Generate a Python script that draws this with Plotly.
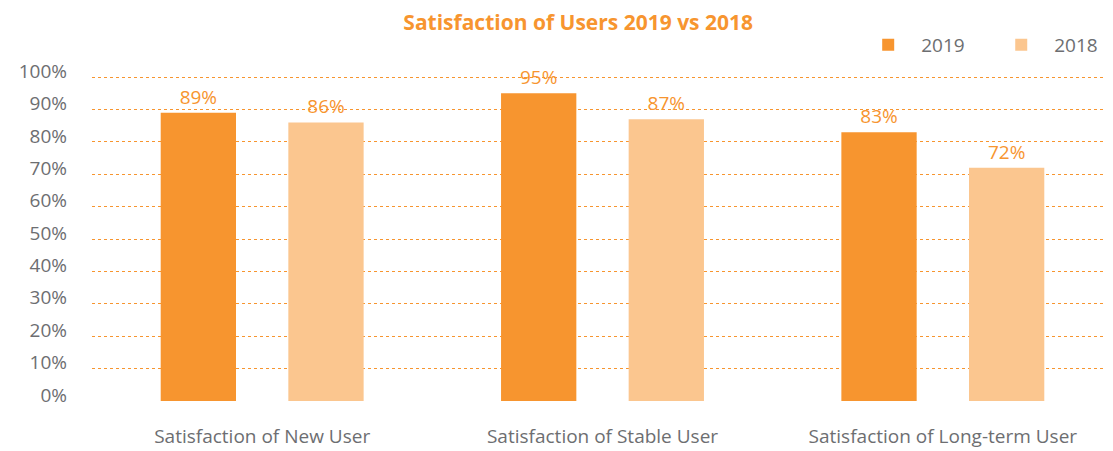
import plotly.graph_objects as go

categories = ['Satisfaction of New User', 'Satisfaction of Stable User',
              'Satisfaction of Long-term User']
values_2019 = [89, 95, 83]
values_2018 = [86, 87, 72]
y_ticks = [0, 10, 20, 30, 40, 50, 60, 70, 80, 90, 100]
y_tick_labels = [f'{v}%' for v in y_ticks]

ORANGE = '#F7952F'
LIGHT = '#FBC68F'
GREY = '#6D6E71'
FONT = 'Open Sans'

fig = go.Figure()
fig.add_trace(go.Bar(x=categories, y=values_2019, name='2019',
                     marker=dict(color=ORANGE, line_width=0),
                     text=[f'{v}%' for v in values_2019],
                     textposition='outside', cliponaxis=False,
                     textfont=dict(color=ORANGE, size=19, family=FONT)))
fig.add_trace(go.Bar(x=categories, y=values_2018, name='2018', legend='legend2',
                     marker=dict(color=LIGHT, line_width=0),
                     text=[f'{v}%' for v in values_2018],
                     textposition='outside', cliponaxis=False,
                     textfont=dict(color=ORANGE, size=19, family=FONT)))

legend_style = dict(orientation='h', xanchor='left', y=1.0755, yanchor='middle',
                    font=dict(size=19, color=GREY), itemwidth=56,
                    bgcolor='rgba(0,0,0,0)')

# page body adds an 8px margin, so the figure is 8px smaller than the window
fig.update_layout(
    width=1105, height=443,
    margin=dict(t=62, b=50, l=84, r=0, autoexpand=False),
    paper_bgcolor='white', plot_bgcolor='white',
    font=dict(family=FONT, color=GREY, size=19),
    title=dict(text='<b>Satisfaction of Users 2019 vs 2018</b>',
               x=0.516, xanchor='center', y=0.968, yanchor='middle',
               font=dict(color=ORANGE, size=21, family=FONT)),
    bargap=0.25, bargroupgap=0.41,
    showlegend=True,
    legend=dict(x=0.7475, **legend_style),
    legend2=dict(x=0.8778, **legend_style),
    xaxis=dict(showgrid=False, showline=False, ticks='', automargin=False,
               ticklabelstandoff=22, tickfont=dict(size=19, color=GREY)),
    yaxis=dict(range=[0, 102.2], tickvals=y_ticks, ticktext=y_tick_labels,
               showgrid=True, gridcolor=ORANGE, griddash='dot', gridwidth=1,
               zeroline=False, showline=False, ticks='', automargin=False,
               ticklabelstandoff=24, ticklabelshift=-6,
               tickfont=dict(size=19, color=GREY)),
)

fig.write_html('out.html')
